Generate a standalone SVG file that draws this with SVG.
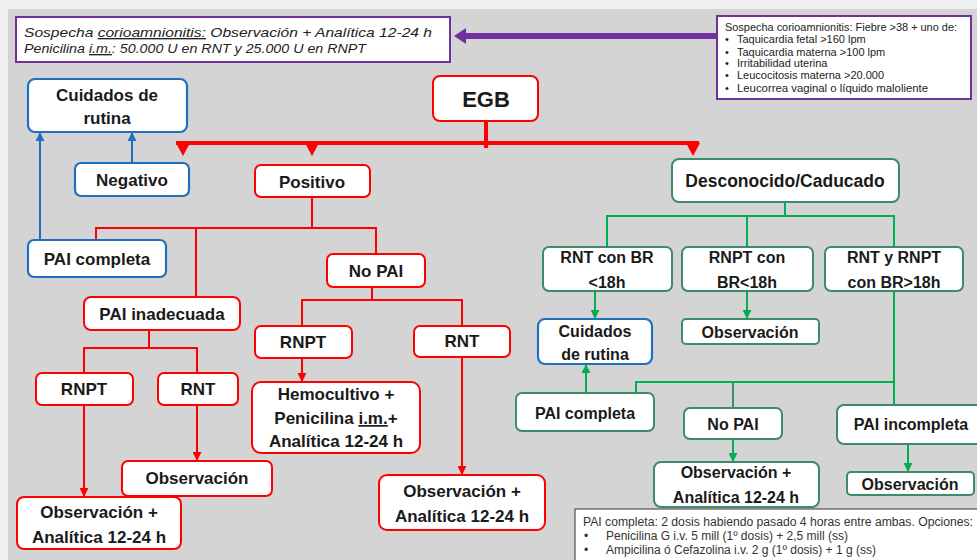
<svg xmlns="http://www.w3.org/2000/svg" width="977" height="560" viewBox="0 0 977 560">
<style>
.bg{fill:#d4d4d4}
.r{fill:#fff;stroke:#ff0000;stroke-width:2}
.b{fill:#fff;stroke:#1f6fc0;stroke-width:2.2}
.g{fill:#fff;stroke:#3f8a68;stroke-width:2}
.p{fill:#fff;stroke:#7030a0;stroke-width:2}
.k{fill:#fff;stroke:#333;stroke-width:1}
.t{font-family:"Liberation Sans",Arial,sans-serif;font-weight:bold;font-size:17px;text-anchor:middle;fill:#1a1a1a}
.tg{font-family:"Liberation Sans",Arial,sans-serif;font-weight:bold;font-size:16px;text-anchor:middle;fill:#1a1a1a}
.ni{font-family:"Liberation Sans",Arial,sans-serif;font-style:italic;font-size:13.5px;fill:#222}
.ns{font-family:"Liberation Sans",Arial,sans-serif;font-size:11px;fill:#222}
.nb{font-family:"Liberation Sans",Arial,sans-serif;font-size:12px;fill:#333}
.cr{fill:none;stroke:#ff0000;stroke-width:2}
.cb{fill:none;stroke:#1f6fc0;stroke-width:2}
.cg{fill:none;stroke:#00b050;stroke-width:2}
.cgd{fill:none;stroke:#3f8a68;stroke-width:2}
</style>
<defs>
<marker id="ar" viewBox="0 0 10 10" refX="9" refY="5" markerWidth="9" markerHeight="9" markerUnits="userSpaceOnUse" orient="auto"><path d="M0,0L10,5L0,10z" fill="#ff0000"/></marker>
<marker id="ab" viewBox="0 0 10 10" refX="9" refY="5" markerWidth="9" markerHeight="9" markerUnits="userSpaceOnUse" orient="auto"><path d="M0,0L10,5L0,10z" fill="#1f6fc0"/></marker>
<marker id="ag" viewBox="0 0 10 10" refX="9" refY="5" markerWidth="9" markerHeight="9" markerUnits="userSpaceOnUse" orient="auto"><path d="M0,0L10,5L0,10z" fill="#00b050"/></marker>
</defs>
<rect width="977" height="560" fill="#efefef"/>
<rect class="bg" x="8" y="9" width="969" height="551"/>

<g id="connectors">
  <line x1="717" y1="36" x2="463" y2="36" stroke="#7030a0" stroke-width="6"/>
  <polygon points="454,36 466,28 466,44" fill="#7030a0"/>
  <line x1="486" y1="121" x2="486" y2="148" stroke="#ff0000" stroke-width="4"/>
  <line x1="176" y1="143" x2="699" y2="143" stroke="#ff0000" stroke-width="4"/>
  <polygon points="176,143 190,143 183,156" fill="#ff0000"/>
  <polygon points="305,143 319,143 312,156" fill="#ff0000"/>
  <polygon points="686,143 700,143 693,156" fill="#ff0000"/>
  <path class="cr" d="M312,197V228M96,240V228H376V254M196,228V297"/>
  <path class="cr" d="M149,330V348M84,373V348H197V373"/>
  <path class="cr" d="M84,405V496" marker-end="url(#ar)"/>
  <path class="cr" d="M197,405V460" marker-end="url(#ar)"/>
  <path class="cr" d="M372,287V300M302,326V300H462V326"/>
  <path class="cr" d="M302,358V381" marker-end="url(#ar)"/>
  <path class="cr" d="M462,357V474" marker-end="url(#ar)"/>
  <path class="cb" d="M132,163V133" marker-end="url(#ab)"/>
  <path class="cb" d="M40,240V133" marker-end="url(#ab)"/>
  <path class="cg" d="M785,202V216M607,247V216H894V247M747,216V247"/>
  <path class="cg" d="M595,291V318" marker-end="url(#ag)"/>
  <path class="cg" d="M747,291V318" marker-end="url(#ag)"/>
  <path class="cg" d="M894,291V405M636,393V382H894"/>
  <path class="cgd" d="M733,382V408"/>
  <path class="cg" d="M586,393V365" marker-end="url(#ag)"/>
  <path class="cg" d="M733,439V461" marker-end="url(#ag)"/>
  <path class="cg" d="M908,444V471" marker-end="url(#ag)"/>
</g>

<g id="note-top-left">
  <rect class="p" x="16" y="17" width="434" height="45"/>
  <text class="ni" x="24" y="37" textLength="408" lengthAdjust="spacingAndGlyphs">Sospecha <tspan text-decoration="underline">corioamnionitis:</tspan> Observación + Analítica 12-24 h</text>
  <text class="ni" x="24" y="53" textLength="342" lengthAdjust="spacingAndGlyphs">Penicilina <tspan text-decoration="underline">i.m.</tspan>: 50.000 U en RNT y 25.000 U en RNPT</text>
</g>
<g id="note-top-right">
  <rect class="p" x="717" y="16" width="254" height="83"/>
  <text class="ns" x="725" y="31" textLength="232" lengthAdjust="spacingAndGlyphs">Sospecha corioamnionitis: Fiebre &gt;38 + uno de:</text>
  <text class="ns" x="725" y="43">•</text><text class="ns" x="737" y="43">Taquicardia fetal &gt;160 lpm</text>
  <text class="ns" x="725" y="56">•</text><text class="ns" x="737" y="56">Taquicardia materna &gt;100 lpm</text>
  <text class="ns" x="725" y="67">•</text><text class="ns" x="737" y="67">Irritabilidad uterina</text>
  <text class="ns" x="725" y="79">•</text><text class="ns" x="737" y="79">Leucocitosis materna &gt;20.000</text>
  <text class="ns" x="725" y="92">•</text><text class="ns" x="737" y="92" textLength="191" lengthAdjust="spacingAndGlyphs">Leucorrea vaginal o líquido maloliente</text>
</g>
<g id="note-bottom">
  <rect class="k" x="575" y="509" width="410" height="60"/>
  <text class="nb" x="583" y="526" textLength="390" lengthAdjust="spacingAndGlyphs">PAI completa: 2 dosis habiendo pasado 4 horas entre ambas. Opciones:</text>
  <text class="nb" x="584" y="540">•</text><text class="nb" x="606" y="540">Penicilina G i.v. 5 mill (1º dosis) + 2,5 mill (ss)</text>
  <text class="nb" x="584" y="554">•</text><text class="nb" x="606" y="554">Ampicilina ó Cefazolina i.v. 2 g (1º dosis) + 1 g (ss)</text>
</g>

<g id="egb"><rect class="r" x="433" y="76" width="105" height="45" rx="7"/><text class="t" x="486" y="107" style="font-size:22px">EGB</text></g>
<g id="cuidados-rutina-1"><rect class="b" x="28" y="79" width="159" height="53" rx="7"/><text class="t" x="107" y="101">Cuidados de</text><text class="t" x="107" y="124">rutina</text></g>
<g id="negativo"><rect class="b" x="75" y="163" width="114" height="33" rx="6"/><text class="t" x="132" y="186">Negativo</text></g>
<g id="pai-completa-1"><rect class="b" x="28" y="240" width="138" height="37" rx="6"/><text class="t" x="97" y="265">PAI completa</text></g>
<g id="positivo"><rect class="r" x="255" y="165" width="115" height="32" rx="6"/><text class="t" x="312" y="188">Positivo</text></g>
<g id="no-pai-1"><rect class="r" x="327" y="254" width="98" height="33" rx="6"/><text class="t" x="376" y="277">No PAI</text></g>
<g id="pai-inadecuada"><rect class="r" x="84" y="297" width="156" height="33" rx="7"/><text class="t" x="162" y="320">PAI inadecuada</text></g>
<g id="rnpt-1"><rect class="r" x="36" y="373" width="97" height="32" rx="6"/><text class="t" x="84" y="395">RNPT</text></g>
<g id="rnt-1"><rect class="r" x="158" y="373" width="80" height="32" rx="6"/><text class="t" x="198" y="395">RNT</text></g>
<g id="obs-anal-1"><rect class="r" x="17" y="497" width="164" height="52" rx="7"/><text class="t" x="99" y="518">Observación +</text><text class="t" x="99" y="543">Analítica 12-24 h</text></g>
<g id="obs-1"><rect class="r" x="122" y="461" width="150" height="35" rx="6"/><text class="t" x="197" y="484">Observación</text></g>
<g id="rnpt-2"><rect class="r" x="255" y="326" width="97" height="32" rx="6"/><text class="t" x="303" y="348">RNPT</text></g>
<g id="rnt-2"><rect class="r" x="414" y="326" width="96" height="31" rx="6"/><text class="t" x="462" y="347">RNT</text></g>
<g id="hemocultivo"><rect class="r" x="252" y="382" width="168" height="71" rx="9"/><text class="t" x="336" y="400">Hemocultivo +</text><text class="t" x="336" y="424">Penicilina <tspan text-decoration="underline">i.m.</tspan>+</text><text class="t" x="336" y="447">Analítica 12-24 h</text></g>
<g id="obs-anal-2"><rect class="r" x="379" y="475" width="166" height="55" rx="8"/><text class="t" x="462" y="497">Observación +</text><text class="t" x="462" y="522">Analítica 12-24 h</text></g>

<g id="desconocido"><rect class="g" x="672" y="159" width="227" height="43" rx="7"/><text class="tg" x="785" y="187" style="font-size:17.5px">Desconocido/Caducado</text></g>
<g id="rnt-br-menor"><rect class="g" x="543" y="247" width="129" height="44" rx="6"/><text class="tg" x="607" y="263">RNT con BR</text><text class="tg" x="607" y="288">&lt;18h</text></g>
<g id="rnpt-br-menor"><rect class="g" x="682" y="247" width="131" height="44" rx="6"/><text class="tg" x="747" y="263">RNPT con</text><text class="tg" x="747" y="288">BR&lt;18h</text></g>
<g id="rnt-rnpt-br-mayor"><rect class="g" x="825" y="247" width="138" height="44" rx="6"/><text class="tg" x="894" y="263">RNT y RNPT</text><text class="tg" x="894" y="288">con BR&gt;18h</text></g>
<g id="cuidados-rutina-2"><rect class="b" x="538" y="319" width="114" height="45" rx="7"/><text class="tg" x="595" y="337">Cuidados</text><text class="tg" x="595" y="360">de rutina</text></g>
<g id="obs-2"><rect class="g" x="682" y="319" width="137" height="25" rx="4"/><text class="tg" x="750" y="338">Observación</text></g>
<g id="pai-completa-2"><rect class="g" x="516" y="393" width="138" height="38" rx="6"/><text class="tg" x="585" y="419">PAI completa</text></g>
<g id="no-pai-2"><rect class="g" x="684" y="408" width="98" height="31" rx="6"/><text class="tg" x="733" y="430">No PAI</text></g>
<g id="obs-anal-3"><rect class="g" x="654" y="462" width="165" height="45" rx="7"/><text class="tg" x="736" y="478">Observación +</text><text class="tg" x="736" y="503">Analítica 12-24 h</text></g>
<g id="pai-incompleta"><rect class="g" x="837" y="405" width="150" height="39" rx="7"/><text class="tg" x="911" y="430">PAI incompleta</text></g>
<g id="obs-3"><rect class="g" x="847" y="472" width="127" height="23" rx="4"/><text class="tg" x="910" y="490">Observación</text></g>
</svg>
